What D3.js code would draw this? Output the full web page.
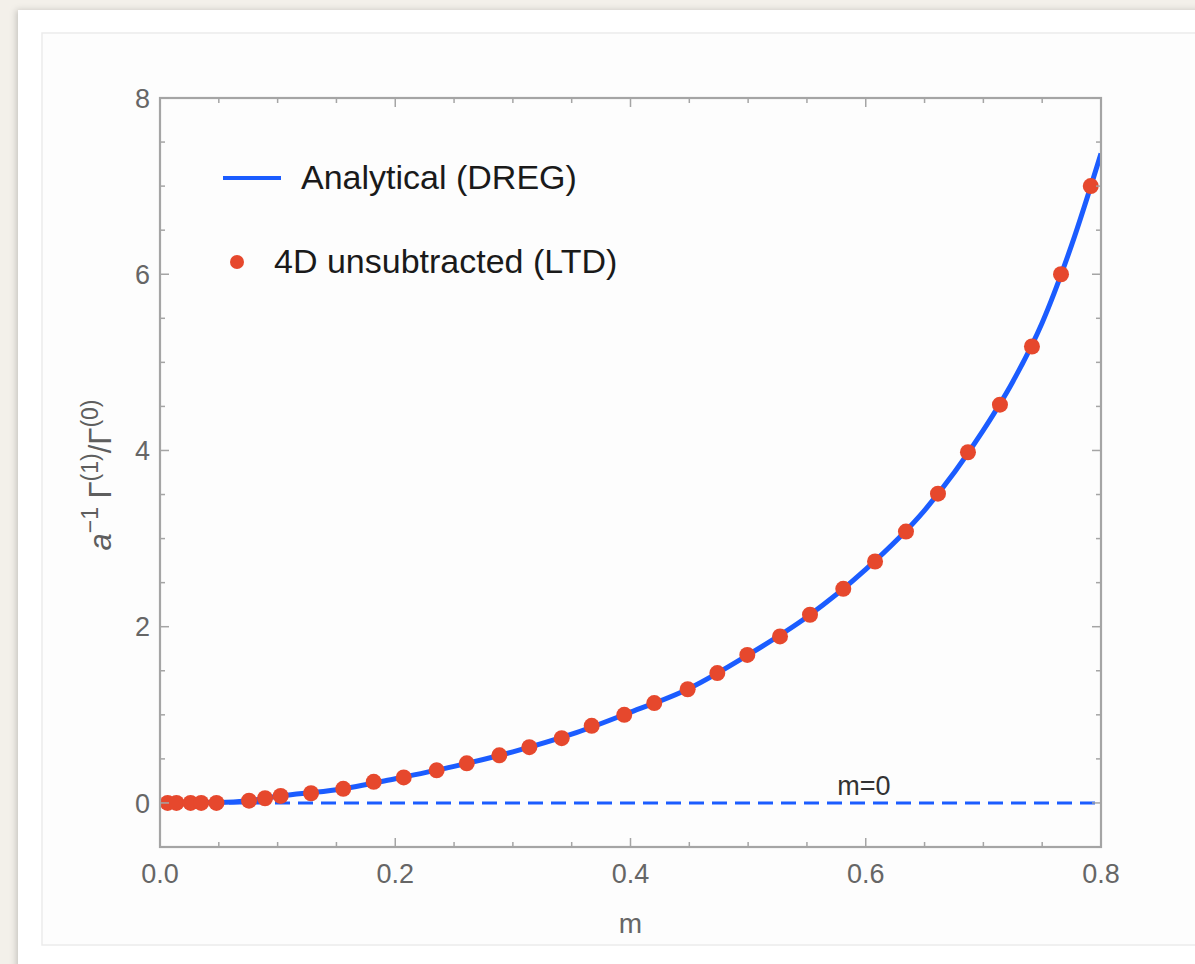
<!DOCTYPE html>
<html>
<head>
<meta charset="utf-8">
<script src="https://cdn.jsdelivr.net/npm/d3@7"></script>
<style>
  html, body { margin: 0; padding: 0; background: #f3f0ea; }
  svg { display: block; }
</style>
</head>
<body>
<div id="chart"></div>
<script>
// Analytical (DREG) curve
const curveM = [0, 0.05, 0.075, 0.1, 0.15, 0.2, 0.25, 0.3, 0.35, 0.4, 0.45, 0.5, 0.55, 0.6, 0.65, 0.7, 0.725, 0.75, 0.775, 0.8];
const curveV = [0, 0.005, 0.025, 0.075, 0.15, 0.275, 0.415, 0.58, 0.78, 1.03, 1.30, 1.68, 2.11, 2.65, 3.32, 4.23, 4.78, 5.45, 6.33, 7.37];

// 4D unsubtracted (LTD) points
const dotM = [0.0065, 0.014, 0.026, 0.035, 0.048, 0.0757, 0.0893, 0.1026, 0.1284, 0.1558, 0.1817, 0.2072,
  0.2352, 0.2608, 0.2885, 0.314, 0.3415, 0.367, 0.3947, 0.4202, 0.4486, 0.4738, 0.4993, 0.5271,
  0.5526, 0.5809, 0.6079, 0.6342, 0.6614, 0.6869, 0.7141, 0.7413, 0.766, 0.7913];
const dotV = [0, 0, 0, 0, 0, 0.026, 0.053, 0.08, 0.11, 0.16, 0.24, 0.29,
  0.37, 0.45, 0.54, 0.633, 0.735, 0.875, 1.0, 1.133, 1.29, 1.474, 1.68, 1.89,
  2.136, 2.43, 2.74, 3.08, 3.51, 3.98, 4.52, 5.18, 6.0, 7.0];

const xTicks = [0, 0.2, 0.4, 0.6, 0.8];
const yTicks = [0, 2, 4, 6, 8];
const xMinor = d3.range(0, 0.8001, 0.05);
const yMinor = d3.range(-0.5, 8.001, 0.5);

const W = 1195, H = 964;
const BLUE = '#1b5cff', RED = '#e6482d';
const FONT = '"Liberation Sans", Arial, Helvetica, sans-serif';

const svg = d3.select('#chart').append('svg').attr('width', W).attr('height', H);

// page card
const defs = svg.append('defs');
const sh = defs.append('filter').attr('id', 'sh').attr('x', '-5%').attr('y', '-5%').attr('width', '110%').attr('height', '110%');
sh.append('feDropShadow').attr('dx', -2).attr('dy', 0).attr('stdDeviation', 3).attr('flood-color', '#000').attr('flood-opacity', 0.18);
svg.append('rect').attr('x', 18).attr('y', 10).attr('width', W).attr('height', H).attr('fill', '#fff').attr('filter', 'url(#sh)');
svg.append('rect').attr('x', 42).attr('y', 33).attr('width', W).attr('height', 912)
  .attr('fill', '#fdfdfd').attr('stroke', '#ebebeb').attr('stroke-width', 1.5);

const x = d3.scaleLinear().domain([0, 0.8]).range([160, 1101]);
const y = d3.scaleLinear().domain([-0.5, 8]).range([847, 98]);
const [x0, x1] = x.range(), [y0, y1] = y.range();

defs.append('clipPath').attr('id', 'plot').append('rect')
  .attr('x', x0).attr('y', y1).attr('width', x1 - x0).attr('height', y0 - y1);

const plot = svg.append('g').attr('clip-path', 'url(#plot)');

// m=0 reference line
plot.append('line')
  .attr('x1', x0).attr('x2', x1).attr('y1', y(0)).attr('y2', y(0))
  .attr('stroke', BLUE).attr('stroke-width', 3).attr('stroke-dasharray', '15,8');

// analytical curve
const curvePts = curveM.map((m, i) => [m, curveV[i]]);
plot.append('path').datum(curvePts)
  .attr('fill', 'none').attr('stroke', BLUE).attr('stroke-width', 5)
  .attr('d', d3.line().x(d => x(d[0])).y(d => y(d[1])).curve(d3.curveMonotoneX));

// LTD points
svg.append('g').selectAll('circle').data(dotM.map((m, i) => [m, dotV[i]])).join('circle')
  .attr('cx', d => x(d[0])).attr('cy', d => y(d[1])).attr('r', 8).attr('fill', RED);

// frame
svg.append('rect').attr('x', x0).attr('y', y1).attr('width', x1 - x0).attr('height', y0 - y1)
  .attr('fill', 'none').attr('stroke', '#a5a5a5').attr('stroke-width', 2.2);

const ticks = svg.append('g').attr('stroke', '#a5a5a5').attr('stroke-width', 1.5);
const isMajorX = v => xTicks.some(t => Math.abs(t - v) < 1e-6);
const isMajorY = v => yTicks.some(t => Math.abs(t - v) < 1e-6);
xMinor.forEach(v => {
  const len = isMajorX(v) ? 9 : 5;
  ticks.append('line').attr('x1', x(v)).attr('x2', x(v)).attr('y1', y0).attr('y2', y0 - len);
  ticks.append('line').attr('x1', x(v)).attr('x2', x(v)).attr('y1', y1).attr('y2', y1 + len);
});
yMinor.forEach(v => {
  const len = isMajorY(v) ? 9 : 5;
  ticks.append('line').attr('y1', y(v)).attr('y2', y(v)).attr('x1', x0).attr('x2', x0 + len);
  ticks.append('line').attr('y1', y(v)).attr('y2', y(v)).attr('x1', x1).attr('x2', x1 - len);
});

// tick labels
svg.append('g').selectAll('text').data(xTicks).join('text')
  .attr('x', d => x(d)).attr('y', 883).attr('text-anchor', 'middle')
  .attr('font-family', FONT).attr('font-size', 27).attr('fill', '#666')
  .text(d3.format('.1f'));
svg.append('g').selectAll('text').data(yTicks).join('text')
  .attr('x', 150).attr('y', d => y(d)).attr('dy', '0.36em').attr('text-anchor', 'end')
  .attr('font-family', FONT).attr('font-size', 27).attr('fill', '#666')
  .text(d => d);

// axis labels
svg.append('text').attr('x', (x0 + x1) / 2).attr('y', 933).attr('text-anchor', 'middle')
  .attr('font-family', FONT).attr('font-size', 28).attr('fill', '#666').text('m');

const yl = svg.append('text').attr('transform', 'translate(111,475) rotate(-90)')
  .attr('text-anchor', 'middle').attr('font-family', FONT).attr('font-size', 31).attr('fill', '#5e5e5e');
yl.append('tspan').attr('font-style', 'italic').text('a');
yl.append('tspan').attr('font-size', 23).attr('dy', -13).text('−1');
yl.append('tspan').attr('dy', 13).text(' Γ');
yl.append('tspan').attr('font-size', 23).attr('dy', -13).text('(1)');
yl.append('tspan').attr('dy', 13).text('/Γ');
yl.append('tspan').attr('font-size', 23).attr('dy', -13).text('(0)');

// m=0 annotation
svg.append('text').attr('x', 864).attr('y', 795).attr('text-anchor', 'middle')
  .attr('font-family', FONT).attr('font-size', 27).attr('fill', '#333').text('m=0');

// legend
const lg = svg.append('g').attr('font-family', FONT).attr('font-size', 34).attr('fill', '#1a1a1a');
lg.append('line').attr('x1', 223).attr('x2', 281).attr('y1', 178).attr('y2', 178)
  .attr('stroke', BLUE).attr('stroke-width', 4);
lg.append('text').attr('x', 301).attr('y', 189).text('Analytical (DREG)');
lg.append('circle').attr('cx', 237).attr('cy', 262).attr('r', 7).attr('fill', RED);
lg.append('text').attr('x', 274).attr('y', 273).text('4D unsubtracted (LTD)');
</script>
</body>
</html>
